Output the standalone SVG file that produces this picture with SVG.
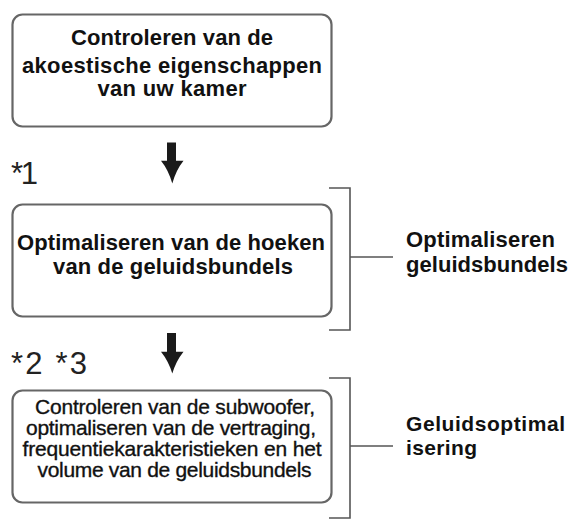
<svg xmlns="http://www.w3.org/2000/svg" width="576" height="523" viewBox="0 0 576 523">
<style>
.box{fill:#fff;stroke:#666;stroke-width:2.2}
.b{font-family:"Liberation Sans",Arial,sans-serif;font-weight:bold;font-size:22px;fill:#111}
.c{text-anchor:middle}
.s{font-size:21px}
.m{font-family:"Liberation Sans",Arial,sans-serif;font-size:21px;fill:#111;stroke:#111;stroke-width:0.35;text-anchor:middle}
.n{font-family:"Liberation Sans",Arial,sans-serif;font-size:31px;fill:#222}
.ln{fill:none;stroke:#555;stroke-width:1.6}
.arr{fill:#1a1a1a}
</style>
<g id="node1">
<rect class="box" x="12.5" y="14.5" width="319" height="112" rx="10"/>
<text class="b c" x="172" y="45" textLength="202" lengthAdjust="spacing">Controleren van de</text>
<text class="b c" x="172" y="72.5" textLength="300" lengthAdjust="spacing">akoestische eigenschappen</text>
<text class="b c" x="172" y="96" textLength="149" lengthAdjust="spacing">van uw kamer</text>
</g>
<g id="node2">
<rect class="box" x="12.5" y="204.5" width="319" height="112" rx="10"/>
<text class="b c" x="171" y="250" textLength="308" lengthAdjust="spacing">Optimaliseren van de hoeken</text>
<text class="b c" x="173" y="274" textLength="240" lengthAdjust="spacing">van de geluidsbundels</text>
</g>
<g id="node3">
<rect class="box" x="12.5" y="390.5" width="319" height="112" rx="10"/>
<text class="m" x="175" y="413.5" textLength="280" lengthAdjust="spacing">Controleren van de subwoofer,</text>
<text class="m" x="171" y="434.5" textLength="290" lengthAdjust="spacing">optimaliseren van de vertraging,</text>
<text class="m" x="172" y="455.5" textLength="299" lengthAdjust="spacing">frequentiekarakteristieken en het</text>
<text class="m" x="174.5" y="476.5" textLength="274" lengthAdjust="spacing">volume van de geluidsbundels</text>
</g>
<g id="notes">
<text class="n" x="11" y="183.5" textLength="27" lengthAdjust="spacing">*1</text>
<text class="n" x="11" y="374" textLength="76" lengthAdjust="spacing">*2 *3</text>
</g>
<g id="label1">
<text class="b" x="406" y="246.5" textLength="149" lengthAdjust="spacing">Optimaliseren</text>
<text class="b" x="406" y="271.5" textLength="162" lengthAdjust="spacing">geluidsbundels</text>
</g>
<g id="label2">
<text class="b s" x="406" y="430.5" textLength="159" lengthAdjust="spacing">Geluidsoptimal</text>
<text class="b s" x="406" y="454.5" textLength="71" lengthAdjust="spacing">isering</text>
</g>
<g id="connectors">
<path class="arr" d="M167,142.5 H176 V160.7 H183.5 Q176,170 172.3,183.5 Q168.5,170 161,160.7 H167 Z"/>
<path class="arr" d="M167,333 H176 V351.7 H183.5 Q176,361 172.3,373.5 Q168.5,361 161,351.7 H167 Z"/>
<path class="ln" d="M329,188 H350 V330 H329 M350,257 H393"/>
<path class="ln" d="M329,378 H350 V518 H329 M350,446 H393"/>
</g>
</svg>
